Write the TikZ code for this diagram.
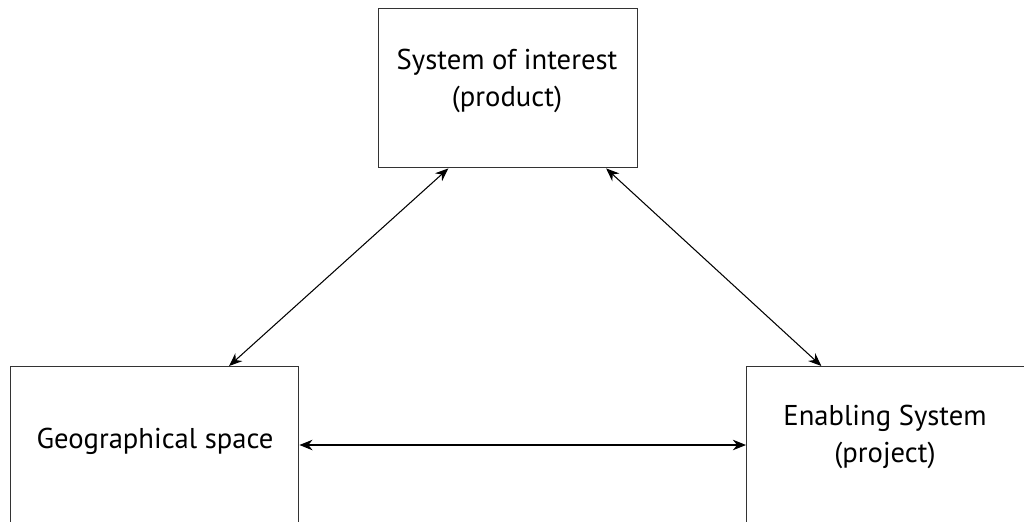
\documentclass[tikz,border=0pt]{standalone}
\usepackage{fontspec}
\setmainfont{PT Sans}
\usetikzlibrary{arrows.meta,calc}

\begin{document}
\begin{tikzpicture}[
  x=0.02cm, y=-0.02cm,
  >={Stealth[length=7.5pt,width=6pt]},
  box/.style={draw=black!80, line width=0.8pt, rectangle, inner sep=0pt, anchor=north west},
  boxtext/.style={align=center, font=\fontsize{16.3}{21.5}\selectfont},
  link/.style={<->, line width=0.6pt},
]
  \def\px{0.02cm}
  % canvas, pixel units (y down)
  \useasboundingbox (0,0) rectangle (1024,521);
  \clip (0,0) rectangle (1024,521);
  % Boxes (lower ones run past the bottom edge)
  \node[box, minimum width=259*\px, minimum height=159*\px] (soi) at (378,8)   {};
  \node[box, minimum width=288*\px, minimum height=220*\px] (geo) at (10,366)  {};
  \node[box, minimum width=300*\px, minimum height=220*\px] (ena) at (746,366) {};
  % Texts
  \node[boxtext] (soiT) at (507,81)  {System of interest\\(product)};
  \node[boxtext] (geoT) at (155,441) {Geographical space};
  \node[boxtext] (enaT) at (885,437) {Enabling System\\(project)};
  % Connections
  \coordinate (mid) at (0,445);
  \draw[link] ($(soi.south west)!0.27!(soi.south east)$)  -- ($(geo.north west)!0.757!(geo.north east)$);
  \draw[link] ($(soi.south west)!0.876!(soi.south east)$) -- ($(ena.north west)!0.25!(ena.north east)$);
  \draw[link] (geo.east |- mid) -- (ena.west |- mid);
\end{tikzpicture}
\end{document}
